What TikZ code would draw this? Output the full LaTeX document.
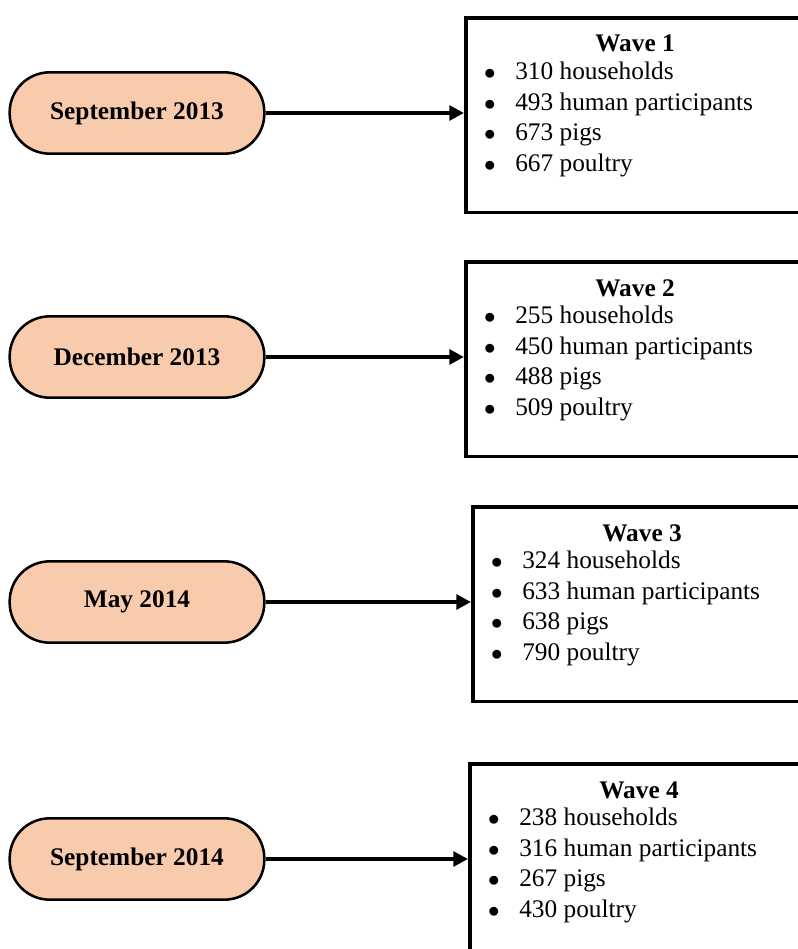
\documentclass[tikz,border=0pt]{standalone}
\usepackage{fontspec}
\setmainfont{Liberation Serif}
\usetikzlibrary{arrows.meta}
\definecolor{peach}{HTML}{F8CBAD}

\begin{document}
\begin{tikzpicture}[
	x=0.75pt, y=-0.75pt,
	font=\fontsize{19}{23}\selectfont,
	datebox/.style={ draw, line width=1.9pt, fill=peach, rounded corners=30pt, minimum width=191pt, minimum height=61pt, inner sep=0pt, font=\fontsize{19}{23}\selectfont\bfseries },
	wavebox/.style={ draw, line width=2.7pt, anchor=north west, minimum width=256pt, minimum height=146pt, inner sep=0pt },
	arr/.style={ line width=3pt, -{Triangle[length=11pt,width=11pt]} },
	entry/.style={ anchor=base west, inner sep=0pt }
]
\useasboundingbox (0,0) rectangle (798,949);
\clip (0,0) rectangle (798,949);

\foreach \w/\when/\bx/\by/\hh/\hp/\pg/\pl in {
	1/September 2013/464/16/310/493/673/667,
	2/December 2013/464/260/255/450/488/509,
	3/May 2014/471/505/324/633/638/790,
	4/September 2014/468/762/238/316/267/430} {
	\node at (\bx,\by) (w\w) [wavebox] {};
	\node at ({\bx+171},{\by+36}) (t\w) [entry, anchor=base] {\textbf{Wave \w}};
	\foreach \num/\what [count=\row] in {\hh/households,\hp/human participants,\pg/pigs,\pl/poultry} {
		\node at ({\bx+26},{\by+33+30.5*\row}) (b\w\row) [entry, anchor=base] {$\bullet$};
		\node at ({\bx+51},{\by+33+30.5*\row}) (i\w\row) [entry] {\num\ \what};
	}
	\node at (137,{\by+97}) (d\w) [datebox] {\when};
	\draw[arr] (d\w.east) -- (d\w.east -| w\w.west);
}

\end{tikzpicture}
\end{document}
